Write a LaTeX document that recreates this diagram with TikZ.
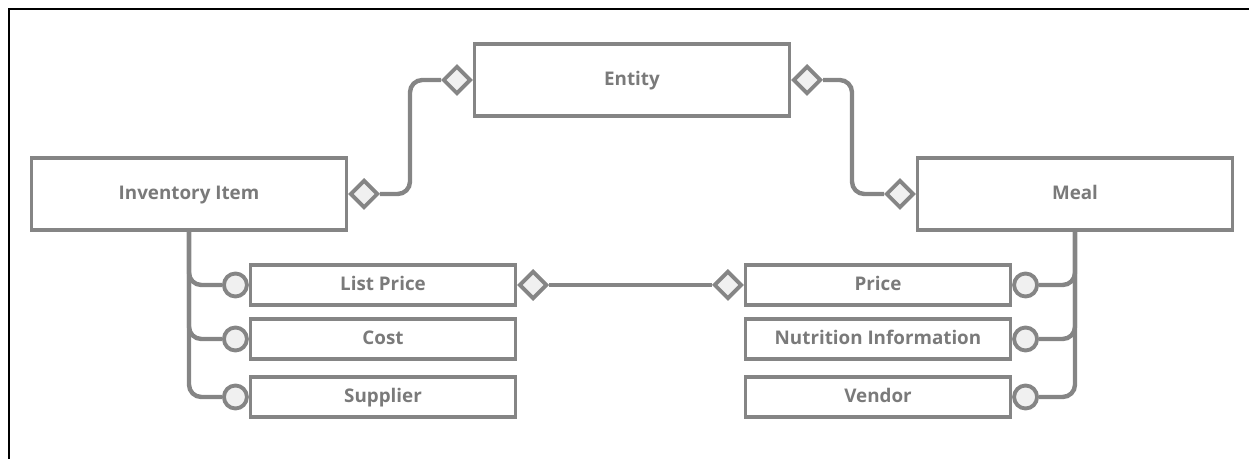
\documentclass[tikz,border=0pt]{standalone}
\usepackage{fontspec}
\setmainfont{Open Sans}
\usetikzlibrary{positioning,shapes.geometric}

\definecolor{linegray}{HTML}{858585}
\definecolor{textgray}{HTML}{7A7A7A}
\definecolor{markfill}{HTML}{F0F0F0}

\begin{document}
\begin{tikzpicture}[
    x=0.02cm, y=-0.02cm,
    entbox/.style={draw=linegray, line width=1.9pt, fill=white, text=textgray,
        font=\bfseries\fontsize{10.7}{12}\selectfont, text height=1.6ex, text depth=0.4ex,
        minimum width=6.3cm, minimum height=1.44cm},
    attbox/.style={draw=linegray, line width=1.9pt, fill=white, text=textgray,
        font=\bfseries\fontsize{10.7}{12}\selectfont, text height=1.6ex, text depth=0.4ex,
        minimum width=5.3cm, minimum height=0.8cm},
    dmark/.style={diamond, draw=linegray, line width=2.2pt, fill=markfill,
        inner sep=0pt, minimum width=0.56cm, minimum height=0.56cm},
    omark/.style={circle, draw=linegray, line width=2.2pt, fill=markfill,
        inner sep=0pt, minimum size=0.46cm},
    conn/.style={draw=linegray, line width=2.5pt, rounded corners=7pt}
]
    \useasboundingbox (0,0) rectangle (1249,459);
    \draw[line width=1.6pt] (9,459) -- (9,9) -- (1249,9);

    % entities
    \node[entbox] (entity) at (632,80) {Entity};
    \node[entbox] (inv) at (189,194) {Inventory Item};
    \node[entbox] (meal) at (1075,194) {Meal};

    % attributes
    \node[attbox] (listprice) at (383,285) {List Price};
    \node[attbox] (cost) at (383,339) {Cost};
    \node[attbox] (supplier) at (383,397) {Supplier};
    \node[attbox] (price) at (878,285) {Price};
    \node[attbox] (nutrition) at (878,339) {Nutrition Information};
    \node[attbox] (vendor) at (878,397) {Vendor};

    % diamonds
    \node[dmark, left=0pt of entity] (dEL) {};
    \node[dmark, right=0pt of entity] (dER) {};
    \node[dmark, right=0pt of inv] (dInv) {};
    \node[dmark, left=0pt of meal] (dMeal) {};
    \node[dmark, right=0pt of listprice] (dLP) {};
    \node[dmark, left=0pt of price] (dPr) {};

    % circles
    \node[omark, left=0pt of listprice] (oLP) {};
    \node[omark, left=0pt of cost] (oCost) {};
    \node[omark, left=0pt of supplier] (oSup) {};
    \node[omark, right=0pt of price] (oPr) {};
    \node[omark, right=0pt of nutrition] (oNut) {};
    \node[omark, right=0pt of vendor] (oVen) {};

    \coordinate (bendL) at (410,194);
    \coordinate (bendR) at (852,80);

    \draw[conn] (dInv.east) -- (bendL) |- (dEL.west);
    \draw[conn] (dER.east) -- (bendR) |- (dMeal.west);
    \draw[conn] (dLP.east) -- (dPr.west);

    \draw[conn] (inv.south) |- (oLP.west);
    \draw[conn] (inv.south) |- (oCost.west);
    \draw[conn] (inv.south) |- (oSup.west);
    \draw[conn] (meal.south) |- (oPr.east);
    \draw[conn] (meal.south) |- (oNut.east);
    \draw[conn] (meal.south) |- (oVen.east);
\end{tikzpicture}
\end{document}
